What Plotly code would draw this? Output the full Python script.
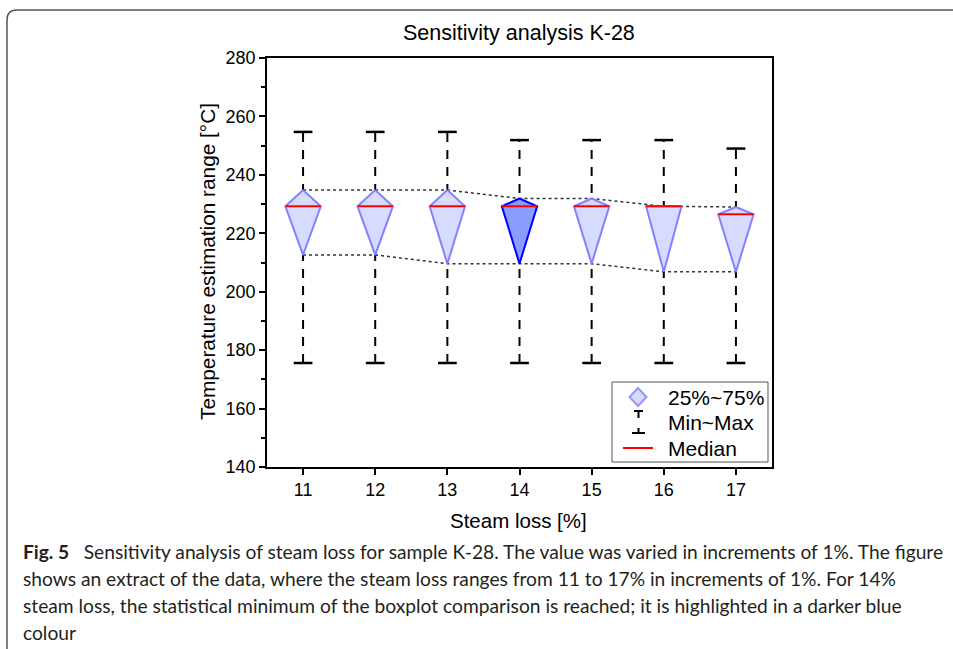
import plotly.graph_objects as go

# values (temperature in °C)
steam_loss = [11, 12, 13, 14, 15, 16, 17]
t_max = [254.7, 254.7, 254.7, 251.9, 251.9, 251.9, 249.0]
t_q3 = [234.8, 234.8, 234.8, 231.9, 231.9, 229.25, 229.0]
t_median = [229.25, 229.25, 229.25, 229.25, 229.25, 229.25, 226.5]
t_q1 = [212.6, 212.6, 209.6, 209.6, 209.6, 206.8, 206.8]
t_min = [175.6, 175.6, 175.6, 175.6, 175.6, 175.6, 175.6]
highlight = 14

caption_lines = [
    "<b>Fig. 5</b>\u2002 Sensitivity analysis of steam loss for sample K-28. The value was varied in increments of 1%. The figure",
    "shows an extract of the data, where the steam loss ranges from 11 to 17% in increments of 1%. For 14%",
    "steam loss, the statistical minimum of the boxplot comparison is reached; it is highlighted in a darker blue",
    "colour",
]

W, H = 953, 649
L, R, T, B = 267, 772, 58, 467  # plot area in pixels
FONT = "Liberation Sans, Arial, sans-serif"

half_w = 0.245   # half width of the kite
cap_w = 0.13     # half width of whisker caps


def px(x):
    return (x - L) / (R - L)


def py(y):
    return (B - y) / (B - T)


fig = go.Figure()

# whiskers (dashed, behind everything)
for x, lo, hi in zip(steam_loss, t_min, t_max):
    fig.add_trace(go.Scatter(x=[x, x], y=[lo, hi], mode="lines",
                             line=dict(color="black", width=2, dash="9px,8px"),
                             hoverinfo="skip", showlegend=False))

# dotted lines joining the quartiles
for series in (t_q3, t_q1):
    fig.add_trace(go.Scatter(x=steam_loss, y=series, mode="lines",
                             line=dict(color="#333333", width=1.5, dash="dot"),
                             hoverinfo="skip", showlegend=False))

# 25%~75% kites
for x, q1, med, q3 in zip(steam_loss, t_q1, t_median, t_q3):
    if x == highlight:
        fill, edge = "rgb(140,155,255)", "rgb(0,0,255)"
    else:
        fill, edge = "rgb(214,219,255)", "rgb(130,130,255)"
    fig.add_trace(go.Scatter(
        x=[x, x - half_w, x, x + half_w, x],
        y=[q3, med, q1, med, q3],
        mode="lines", fill="toself", fillcolor=fill,
        line=dict(color=edge, width=2),
        hoverinfo="skip", showlegend=False))

# medians
for x, med in zip(steam_loss, t_median):
    fig.add_trace(go.Scatter(x=[x - half_w, x + half_w], y=[med, med], mode="lines",
                             line=dict(color="red", width=2),
                             hoverinfo="skip", showlegend=False))

# whisker caps
for x, lo, hi in zip(steam_loss, t_min, t_max):
    for v in (lo, hi):
        fig.add_trace(go.Scatter(x=[x - cap_w, x + cap_w], y=[v, v], mode="lines",
                                 line=dict(color="black", width=2.5),
                                 hoverinfo="skip", showlegend=False))

shapes = []
# page frame with rounded corner
x0, yt = px(7), py(10)
rx, ry = 10 / (R - L), 10 / (B - T)
shapes.append(dict(type="path", xref="paper", yref="paper",
                   path=f"M {x0},{py(660)} L {x0},{yt - ry} Q {x0},{yt} {x0 + rx},{yt} L {px(970)},{yt}",
                   line=dict(color="#555555", width=1.5)))

# legend box
shapes.append(dict(type="rect", xref="paper", yref="paper",
                   x0=px(612), x1=px(768), y0=py(462), y1=py(382),
                   line=dict(color="#555555", width=1), fillcolor="white"))
# legend diamond
cx, cy = 638, 397
shapes.append(dict(type="path", xref="paper", yref="paper",
                   path=f"M {px(cx)},{py(cy - 9)} L {px(cx + 8.5)},{py(cy)} L {px(cx)},{py(cy + 9)} L {px(cx - 8.5)},{py(cy)} Z",
                   fillcolor="rgb(214,219,255)", line=dict(color="rgb(150,150,255)", width=2)))
# legend whisker symbol
for seg in [(634, 411, 643, 411), (638.5, 411, 638.5, 418), (638.5, 428, 638.5, 433), (632, 433, 645, 433)]:
    shapes.append(dict(type="line", xref="paper", yref="paper",
                       x0=px(seg[0]), y0=py(seg[1]), x1=px(seg[2]), y1=py(seg[3]),
                       line=dict(color="black", width=2)))
# legend median
shapes.append(dict(type="line", xref="paper", yref="paper",
                   x0=px(623), x1=px(653), y0=py(448), y1=py(448),
                   line=dict(color="red", width=2)))

annotations = [
    dict(text="Sensitivity analysis K-28", x=px(519), y=py(33), xref="paper", yref="paper",
         showarrow=False, xanchor="center", yanchor="middle", font=dict(size=21.5, color="black", family=FONT)),
    dict(text="Steam loss [%]", x=px(518), y=py(520), xref="paper", yref="paper",
         showarrow=False, xanchor="center", yanchor="middle", font=dict(size=20.5, color="black", family=FONT)),
    dict(text="Temperature estimation range [°C]", x=px(207), y=py(262), xref="paper", yref="paper",
         showarrow=False, xanchor="center", yanchor="middle", textangle=-90,
         font=dict(size=20.8, color="black", family=FONT)),
]
for label, yy in zip(["25%~75%", "Min~Max", "Median"], [397, 422, 448]):
    annotations.append(dict(text=label, x=px(666), y=py(yy), xref="paper", yref="paper",
                            showarrow=False, xanchor="left", yanchor="middle",
                            font=dict(size=21, color="black", family=FONT)))
for i, line in enumerate(caption_lines):
    annotations.append(dict(text=line, x=px(21), y=py(551 + 27 * i), xref="paper", yref="paper",
                            showarrow=False, xanchor="left", yanchor="middle",
                            font=dict(size=19.2, color="#231f20", family="Lato, sans-serif")))

fig.update_layout(
    width=W, height=H,
    margin=dict(l=L, r=W - R, t=T, b=H - B, autoexpand=False),
    plot_bgcolor="white", paper_bgcolor="white",
    showlegend=False,
    shapes=shapes, annotations=annotations,
    font=dict(family=FONT, color="black"),
)
fig.update_xaxes(range=[10.5, 17.5], tickvals=steam_loss, ticks="outside", ticklen=6, tickwidth=1.5,
                 tickcolor="black", showline=True, linecolor="black", linewidth=1.5, mirror=True,
                 showgrid=False, zeroline=False, tickfont=dict(size=18, family=FONT, color="black"))
fig.update_yaxes(range=[140, 280], dtick=20, ticks="outside", ticklen=6, tickwidth=1.5,
                 tickcolor="black", showline=True, linecolor="black", linewidth=1.5, mirror=True,
                 minor=dict(dtick=10, ticks="outside", ticklen=4, tickwidth=1.5, tickcolor="black"),
                 showgrid=False, zeroline=False, tickfont=dict(size=18, family=FONT, color="black"))

# drop the browser's default page margin so the figure sits at the window's corner
fig.write_html("out.html", config={"displayModeBar": False},
               post_script="document.body.style.margin='0';")
